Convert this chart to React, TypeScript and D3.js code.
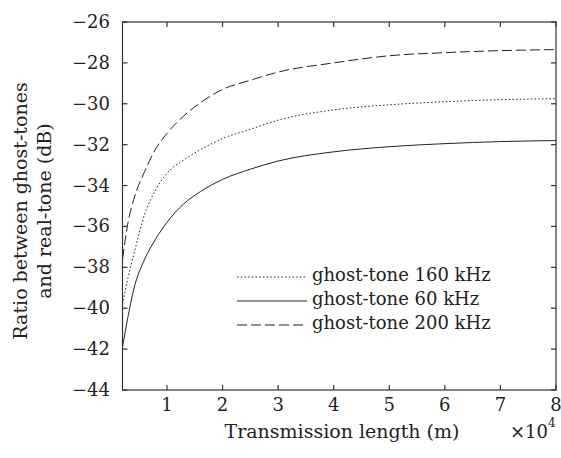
import React, { useEffect, useRef } from 'react';
import * as d3 from 'd3';

// transmission length in units of 10^4 m
const lengths = [0.2, 0.3, 0.4, 0.6, 0.8, 1.0, 1.3, 1.6, 2.0, 2.5, 3.0, 4.0, 5.0, 6.0, 7.0, 8.0];

// ratio between ghost-tones and real-tone (dB)
const tone160 = [-39.8, -38.5, -37.4, -35.4, -34.2, -33.4, -32.75, -32.25, -31.7, -31.25, -30.8, -30.3, -30.05, -29.9, -29.8, -29.75];
const tone60 = [-41.9, -40.4, -39.1, -37.6, -36.6, -35.8, -34.9, -34.3, -33.7, -33.2, -32.8, -32.35, -32.1, -31.95, -31.85, -31.8];
const tone200 = [-37.6, -35.8, -34.7, -33.3, -32.2, -31.45, -30.6, -29.95, -29.3, -28.85, -28.45, -28.0, -27.65, -27.5, -27.4, -27.35];

const seriesNames = ['ghost-tone 160 kHz', 'ghost-tone 60 kHz', 'ghost-tone 200 kHz'];
const xTicks = [1, 2, 3, 4, 5, 6, 7, 8];
const yTicks = [-26, -28, -30, -32, -34, -36, -38, -40, -42, -44];

const App = () => {
  const ref = useRef<SVGSVGElement>(null);

  useEffect(() => {
    const svg = d3.select(ref.current);
    svg.selectAll('*').remove();

    const left = 122.5;
    const right = 556;
    const top = 22;
    const bottom = 390;
    const font = 'DejaVu Serif, Liberation Serif, serif';
    const ink = '#222';

    const x = d3.scaleLinear().domain([0.2, 8]).range([left, right]);
    const y = d3.scaleLinear().domain([-44, -26]).range([bottom, top]);

    const series = [
      { name: seriesNames[0], values: tone160, dash: '1.5,2.2' },
      { name: seriesNames[1], values: tone60, dash: null },
      { name: seriesNames[2], values: tone200, dash: '10,4' },
    ];

    const line = d3
      .line<number>()
      .x((_, i) => x(lengths[i]))
      .y((d) => y(d))
      .curve(d3.curveMonotoneX);

    series.forEach((s) => {
      svg
        .append('path')
        .datum(s.values)
        .attr('d', line)
        .attr('fill', 'none')
        .attr('stroke', ink)
        .attr('stroke-width', 1)
        .attr('stroke-dasharray', s.dash);
    });

    // inward ticks on all four sides
    const tickLen = 5;
    const frame = svg.append('g').attr('stroke', '#333').attr('stroke-width', 1.2);
    xTicks.forEach((t) => {
      frame.append('line').attr('x1', x(t)).attr('x2', x(t)).attr('y1', bottom).attr('y2', bottom - tickLen);
      frame.append('line').attr('x1', x(t)).attr('x2', x(t)).attr('y1', top).attr('y2', top + tickLen);
    });
    yTicks.forEach((t) => {
      frame.append('line').attr('x1', left).attr('x2', left + tickLen).attr('y1', y(t)).attr('y2', y(t));
      frame.append('line').attr('x1', right).attr('x2', right - tickLen).attr('y1', y(t)).attr('y2', y(t));
    });
    frame
      .append('rect')
      .attr('x', left)
      .attr('y', top)
      .attr('width', right - left)
      .attr('height', bottom - top)
      .attr('fill', 'none');

    const text = (g: any, size = 18) =>
      g.attr('font-family', font).attr('font-size', size).attr('fill', ink);

    // tick labels
    svg
      .append('g')
      .selectAll('text')
      .data(xTicks)
      .join('text')
      .attr('x', (d) => x(d))
      .attr('y', 411)
      .attr('text-anchor', 'middle')
      .call(text)
      .text((d) => d);

    svg
      .append('g')
      .selectAll('text')
      .data(yTicks)
      .join('text')
      .attr('x', 110)
      .attr('y', (d) => y(d) + 6)
      .attr('text-anchor', 'end')
      .call(text)
      .text((d) => '\u2212' + Math.abs(d));

    // axis titles
    svg
      .append('text')
      .attr('x', 342)
      .attr('y', 438)
      .attr('text-anchor', 'middle')
      .call(text, 19)
      .text('Transmission length (m)');

    const exp = svg.append('text').attr('x', 510).attr('y', 438).call(text);
    exp.append('tspan').text('\u00d710');
    exp.append('tspan').attr('dy', -11).attr('font-size', 12).text('4');

    const yTitle = svg
      .append('text')
      .attr('transform', 'translate(27, 211) rotate(-90)')
      .attr('text-anchor', 'middle')
      .call(text, 19);
    yTitle.append('tspan').attr('x', 0).attr('y', 0).text('Ratio between ghost-tones');
    yTitle.append('tspan').attr('x', 0).attr('y', 24).text('and real-tone (dB)');

    // legend
    const legend = svg.append('g');
    series.forEach((s, i) => {
      const ly = 277 + i * 24;
      legend
        .append('line')
        .attr('x1', 237)
        .attr('x2', 307)
        .attr('y1', ly)
        .attr('y2', ly)
        .attr('stroke', ink)
        .attr('stroke-width', 1)
        .attr('stroke-dasharray', s.dash);
      legend
        .append('text')
        .attr('x', 312)
        .attr('y', ly + 4)
        .call(text)
        .text(s.name);
    });
  }, []);

  return (
    <svg
      ref={ref}
      width={561}
      height={458}
      style={{ position: 'absolute', left: 0, top: 0, background: '#fff' }}
    />
  );
};

export default App;
